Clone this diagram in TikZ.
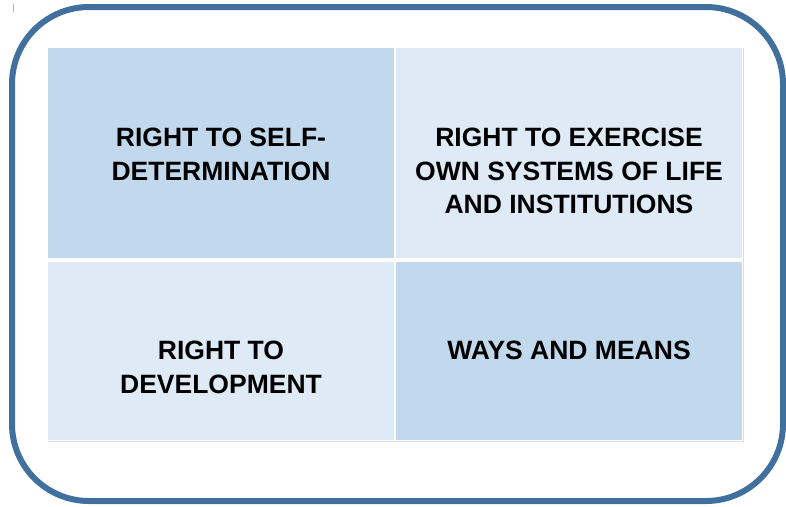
\documentclass[tikz,border=0pt]{standalone}
\usepackage{fontspec}
\setmainfont{Liberation Sans}
\usetikzlibrary{positioning}
\definecolor{frameblue}{RGB}{66, 112, 158}
\definecolor{celldark}{RGB}{194, 216, 237}
\definecolor{celllight}{RGB}{222, 234, 246}
\definecolor{gridline}{RGB}{220, 220, 220}

\begin{document}
\begin{tikzpicture}[x=1pt, y=-1pt,
        cell/.style={inner sep=0, outer sep=0, minimum width=346pt},
        toprow/.style={cell, minimum height=210pt},
        botrow/.style={cell, minimum height=178pt},
        caption/.style={inner sep=0, align=center, font=\fontsize{26.5}{33.4}\selectfont\bfseries}
    ]
        \useasboundingbox (0,0) rectangle (786,506);
        \draw[frameblue, line width=6pt, rounded corners=77pt] (12,7) rectangle (783,501);
        \draw[gray!60, line width=0.6pt] (13,4) -- (13,12);

        % two by two grid
        \node[toprow, fill=celldark, anchor=north west] (selfdet) at (48,48) {};
        \node[toprow, fill=celllight, right=2pt of selfdet] (exercise) {};
        \node[botrow, fill=celllight, below=4pt of selfdet] (develop) {};
        \node[botrow, fill=celldark, right=2pt of develop] (means) {};
        \draw[gridline, line width=0.8pt] ([xshift=1.5pt]exercise.north east) -- ([shift={(1.5pt,-1.5pt)}]means.south east) -- ([yshift=-1.5pt]develop.south west);

        \node[caption, below=80pt of selfdet.north] (selfdettext) {RIGHT TO SELF-\\DETERMINATION};
        \node[caption, below=80pt of exercise.north] (exercisetext) {RIGHT TO EXERCISE\\OWN SYSTEMS OF LIFE\\AND INSTITUTIONS};
        \node[caption, below=79pt of develop.north] (developtext) {RIGHT TO\\DEVELOPMENT};
        \node[caption, below=79pt of means.north] (meanstext) {WAYS AND MEANS};
    \end{tikzpicture}
\end{document}
